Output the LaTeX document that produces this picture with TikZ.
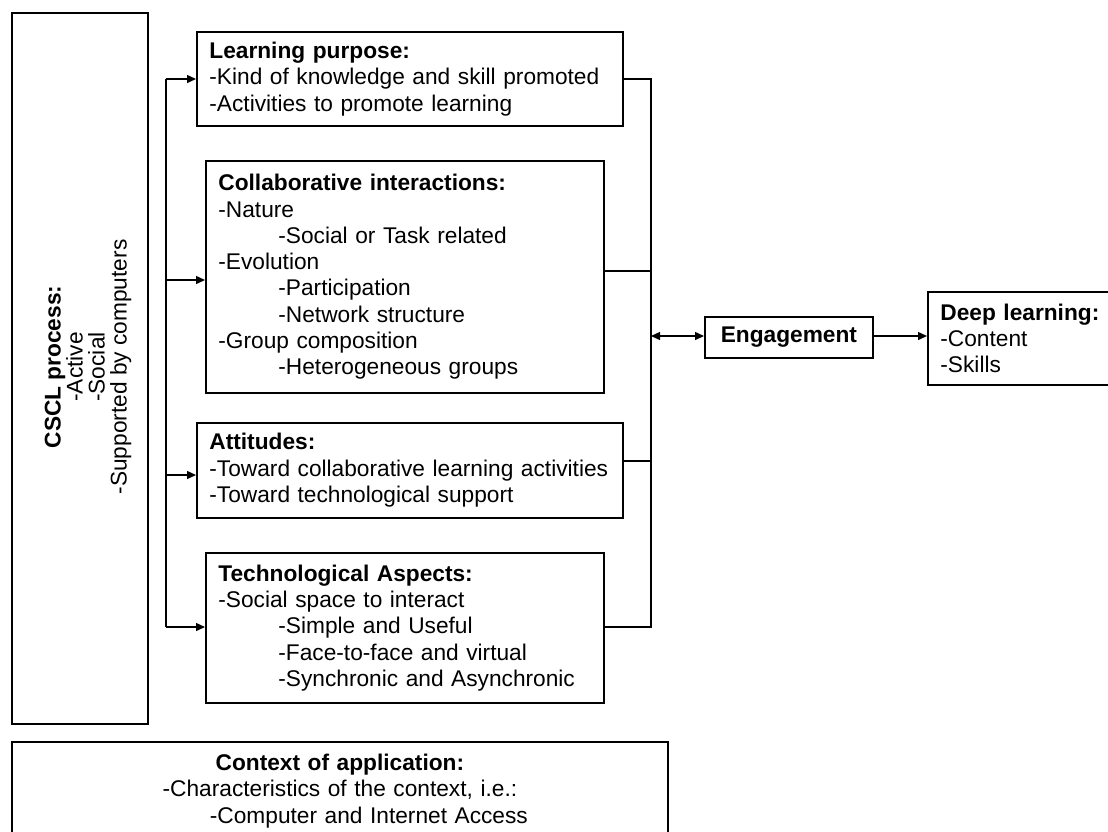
\documentclass[tikz,border=0pt]{standalone}
\usepackage{fontspec}
\setmainfont{Liberation Sans}
\usetikzlibrary{arrows.meta,calc}
\newcommand\myfs{\fontsize{22.7}{26.3}\selectfont}
\newcommand\myfsr{\fontsize{22.7}{22}\selectfont}
\newcommand\ind{\hspace*{60pt}}
\begin{document}
\begin{tikzpicture}[x=1pt,y=-1pt,
  box/.style={draw, line width=1.8pt, inner xsep=12.5pt, inner ysep=0pt, align=left, anchor=north west, font=\myfs},
  conn/.style={line width=1.4pt},
  tip/.tip={Triangle[length=9pt,width=8pt]},
  arr/.style={conn,-tip},
]
\useasboundingbox (0,0) rectangle (1108,831);
\clip (0,0) rectangle (1108,831);

% CSCL process box
\node[box, minimum width=136pt, minimum height=711pt, inner sep=0pt] (cscl) at (11,12) {};
\node[font=\myfsr, align=center, rotate=90, inner sep=0pt] (cscltxt) at (88,367)
  {\textbf{CSCL process:}\\-Active\\-Social\\-Supported by computers};

% Central boxes
\node[box, text width=401pt, minimum height=94pt] (lp) at (196,31)
  {\textbf{Learning purpose:}\\-Kind of knowledge and skill promoted\\-Activities to promote learning};
\node[box, text width=373pt, minimum height=232pt] (ci) at (205,160)
  {\textbf{Collaborative interactions:}\\-Nature\\\ind-Social or Task related\\-Evolution\\\ind-Participation\\\ind-Network structure\\-Group composition\\\ind-Heterogeneous groups};
\node[box, text width=401pt, minimum height=95pt] (at) at (196,422)
  {\textbf{Attitudes:}\\-Toward collaborative learning activities\\-Toward technological support};
\node[box, text width=373pt, minimum height=150pt] (ta) at (205,552)
  {\textbf{Technological Aspects:}\\-Social space to interact\\\ind-Simple and Useful\\\ind-Face-to-face and virtual\\\ind-Synchronic and Asynchronic};

% Engagement and deep learning
\node[box, align=center, inner xsep=0pt, minimum width=168pt, minimum height=41pt] (eng) at (704,316)
  {\textbf{Engagement}};
\node[box, text width=215pt, minimum height=93pt] (dl) at (927,291)
  {\textbf{Deep learning:}\\-Content\\-Skills};

% Context
\node[box, align=center, text width=631pt, minimum height=98pt] (ctx) at (11,741)
  {\textbf{Context of application:}\\-Characteristics of the context, i.e.:\\\hspace*{58pt}-Computer and Internet Access};

% Left distribution trunk
\coordinate (t1) at (166,79);
\coordinate (t2) at (166,280);
\coordinate (t3) at (166,475);
\coordinate (t4) at (166,627);
\draw[conn] (t1) -- (t4);
\draw[arr] (t1) -- (t1 -| lp.west);
\draw[arr] (t2) -- (t2 -| ci.west);
\draw[arr] (t3) -- (t3 -| at.west);
\draw[arr] (t4) -- (t4 -| ta.west);

% Right collector
\coordinate (r1) at (651,79);
\coordinate (r2) at (651,271);
\coordinate (r3) at (651,461);
\coordinate (r4) at (651,627);
\coordinate (r5) at (651,336);
\draw[conn] (lp.east |- r1) -- (r1) -- (r4) -- (ta.east |- r4);
\draw[conn] (ci.east |- r2) -- (r2);
\draw[conn] (at.east |- r3) -- (r3);
\draw[conn, tip-tip] (r5) -- (r5 -| eng.west);
\draw[arr] (eng.east |- r5) -- (r5 -| dl.west);
\end{tikzpicture}
\end{document}
